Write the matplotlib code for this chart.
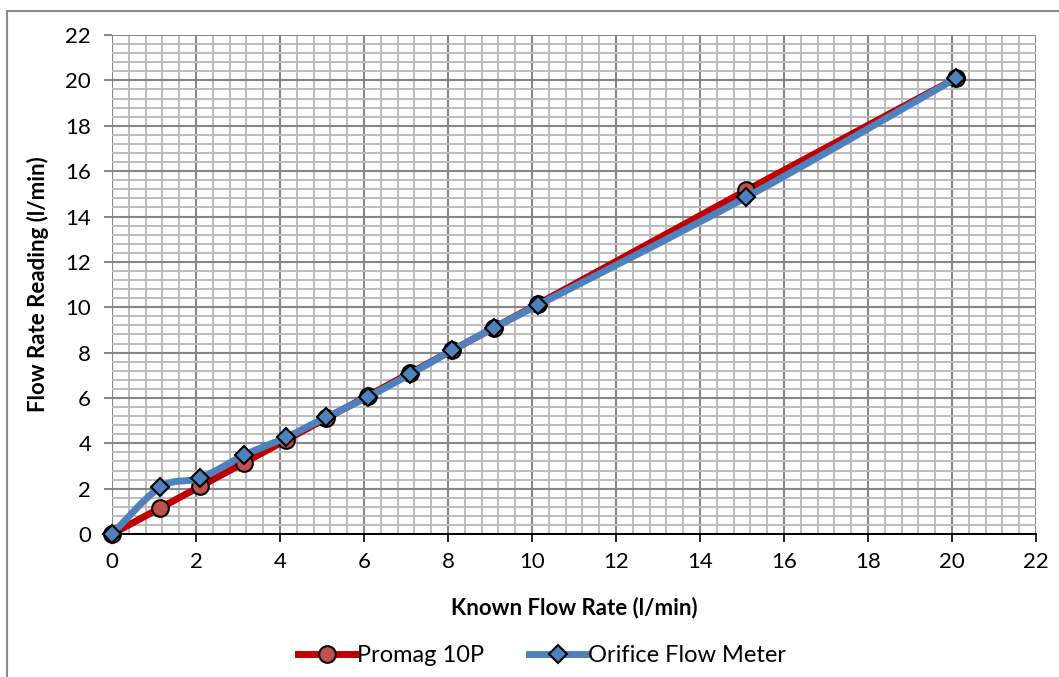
import numpy as np
import matplotlib
matplotlib.use('Agg')
import matplotlib.pyplot as plt
from matplotlib.path import Path
from matplotlib.patches import PathPatch, Rectangle
from matplotlib.lines import Line2D
from matplotlib.ticker import MultipleLocator

plt.rcParams['font.family'] = ['Lato', 'DejaVu Sans']

# known flow rate (l/min) and readings of both meters
known = [0, 1.15, 2.1, 3.15, 4.15, 5.1, 6.1, 7.1, 8.1, 9.1, 10.15, 15.1, 20.1]
promag = [0, 1.15, 2.1, 3.15, 4.15, 5.1, 6.1, 7.1, 8.1, 9.1, 10.15, 15.15, 20.1]
orifice = [0, 2.07, 2.47, 3.48, 4.27, 5.15, 6.05, 7.05, 8.1, 9.1, 10.1, 14.85, 20.1]
ticks = list(range(0, 23, 2))

red_line = '#C00000'
red_face = '#C0504D'
blue = '#4F81BD'


def smooth_path(xs, ys, t=1 / 6):
    # Excel-like smoothed line: cubic bezier segments through the points
    pts = np.column_stack([xs, ys])
    verts = [pts[0]]
    codes = [Path.MOVETO]
    n = len(pts)
    for i in range(n - 1):
        p0 = pts[i - 1] if i > 0 else pts[i]
        p1, p2 = pts[i], pts[i + 1]
        p3 = pts[i + 2] if i + 2 < n else pts[i + 1]
        c1 = p1 + (p2 - p0) * t
        c2 = p2 - (p3 - p1) * t
        verts += [c1, c2, p2]
        codes += [Path.CURVE4] * 3
    return Path(verts, codes)


fig = plt.figure(figsize=(10.59, 6.77), dpi=100)
ax = fig.add_axes([0.1058, 0.2112, 0.8725, 0.7370])

# outer chart border
fig.patches.append(Rectangle((7 / 1059, -0.1), 1.2, 1 - 11 / 677 + 0.1,
                             transform=fig.transFigure, fill=False,
                             edgecolor='#8C8C8C', lw=1.5, zorder=0))

ax.set_xlim(0, 22)
ax.set_ylim(0, 22)
ax.xaxis.set_minor_locator(MultipleLocator(0.4))
ax.yaxis.set_minor_locator(MultipleLocator(0.4))
ax.set_xticks(ticks)
ax.set_yticks(ticks)
ax.grid(which='minor', color='#BCBCBC', lw=1.4)
ax.grid(which='major', color='#868686', lw=1.5)
ax.set_axisbelow(True)
ax.tick_params(which='minor', length=0)
ax.tick_params(axis='x', which='major', length=6, width=1.2, color='black',
               labelsize=16, pad=7)
ax.tick_params(axis='y', which='major', length=6, width=1.4, color='#868686',
               labelsize=16, pad=9)
for s in ['top', 'right', 'left']:
    ax.spines[s].set_visible(False)
ax.spines['bottom'].set_color('black')
ax.spines['bottom'].set_linewidth(1.4)

ax.plot(known, promag, color=red_line, lw=5, marker='o', ms=12,
        mfc=red_face, mec='black', mew=1.5, zorder=3, clip_on=False)
ax.add_patch(PathPatch(smooth_path(known, orifice), fill=False,
                       edgecolor=blue, lw=5, zorder=4, capstyle='round'))
ax.plot(known, orifice, ls='none', marker='D', ms=9.5, mfc=blue,
        mec='black', mew=1.5, zorder=5, clip_on=False)

ax.set_xlabel('Known Flow Rate (l/min)', fontsize=16, fontweight='bold',
              labelpad=18)
ax.set_ylabel('Flow Rate Reading (l/min)', fontsize=16, fontweight='bold',
              labelpad=12)

handles = [
    Line2D([], [], color=red_line, lw=5, marker='o', ms=12, mfc=red_face,
           mec='black', mew=1.5),
    Line2D([], [], color=blue, lw=5, marker='D', ms=9.5, mfc=blue,
           mec='black', mew=1.5),
]
fig.legend(handles, ['Promag 10P', 'Orifice Flow Meter'], loc='center',
           bbox_to_anchor=(0.512, 0.032), ncol=2, frameon=False,
           fontsize=17, handlelength=2.4, handletextpad=0.1,
           columnspacing=1.9)

fig.savefig('out.png', dpi=100)
